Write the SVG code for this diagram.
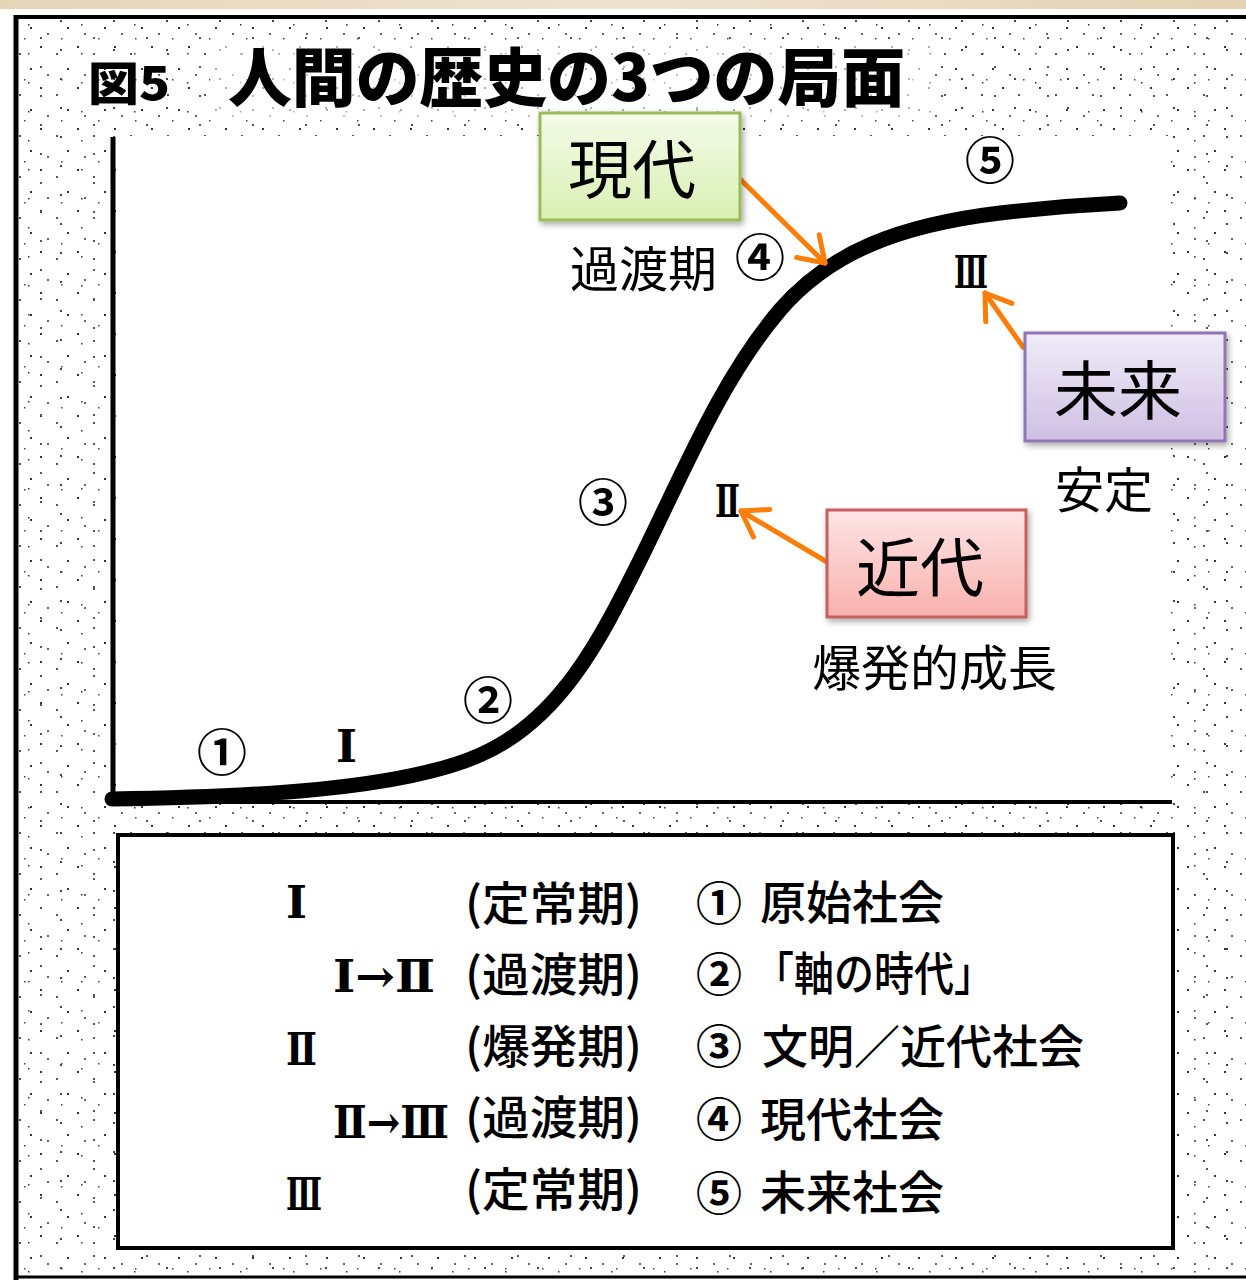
<svg xmlns="http://www.w3.org/2000/svg" width="1246" height="1280" viewBox="0 0 1246 1280">
<style>
.jp{font-family:"Noto Sans CJK JP","Noto Sans CJK SC",sans-serif;fill:#000}
.tt{font-weight:900}
.cl{font-size:64px}
.lb{font-size:49px}
.cn{font-size:50px;font-weight:bold;text-anchor:middle}
.lg{font-size:46px;font-weight:500}
.lc{font-size:46px;font-weight:bold;text-anchor:middle}
.rn{font-family:"DejaVu Serif","Liberation Serif","Noto Sans CJK JP",serif;font-weight:bold;font-size:45px;fill:#000}
.arr{fill:none;stroke:#fb7d0a;stroke-width:5;stroke-linecap:round;marker-end:url(#ah)}
</style>
<defs>
<pattern id="dots1" width="37" height="41" patternUnits="userSpaceOnUse">
<rect x="3" y="5" width="2" height="2" fill="#333"/><rect x="19" y="12" width="2" height="2" fill="#555"/><rect x="30" y="27" width="2" height="2" fill="#333"/><rect x="10" y="33" width="2" height="2" fill="#666"/><rect x="24" y="38" width="1.5" height="1.5" fill="#444"/>
</pattern>
<pattern id="dots2" width="53" height="29" patternUnits="userSpaceOnUse">
<rect x="7" y="20" width="2" height="2" fill="#444"/><rect x="40" y="8" width="2" height="2" fill="#555"/><rect x="28" y="24" width="1.5" height="1.5" fill="#333"/>
</pattern>
<linearGradient id="gTop" x1="0" y1="0" x2="1" y2="0"><stop offset="0" stop-color="#e6d6b8"/><stop offset="0.5" stop-color="#efe3cf"/><stop offset="1" stop-color="#e4d2b2"/></linearGradient>
<linearGradient id="gGreen" x1="0" y1="0" x2="0" y2="1"><stop offset="0" stop-color="#f4fbe9"/><stop offset="1" stop-color="#d8f0b2"/></linearGradient>
<linearGradient id="gPurple" x1="0" y1="0" x2="0" y2="1"><stop offset="0" stop-color="#f0ecf8"/><stop offset="1" stop-color="#cfc0e4"/></linearGradient>
<linearGradient id="gRed" x1="0" y1="0" x2="0" y2="1"><stop offset="0" stop-color="#fde5e5"/><stop offset="1" stop-color="#f9b1ad"/></linearGradient>
<filter id="sh" x="-10%" y="-10%" width="125%" height="130%"><feDropShadow dx="2" dy="3" stdDeviation="3" flood-color="#000" flood-opacity="0.35"/></filter>
<marker id="ah" viewBox="-32 -22 36 44" refX="0" refY="0" markerWidth="36" markerHeight="44" markerUnits="userSpaceOnUse" orient="auto">
<path d="M-24,-16 L0,0 L-24,16" fill="none" stroke="#fb7d0a" stroke-width="5" stroke-linecap="round" stroke-linejoin="round"/>
</marker>
</defs>

<!-- background -->
<rect x="0" y="0" width="1246" height="1280" fill="#fff"/>
<rect x="0" y="0" width="1246" height="9" fill="url(#gTop)"/>
<rect x="17" y="19" width="1229" height="1256" fill="url(#dots1)"/>
<rect x="17" y="19" width="1229" height="1256" fill="url(#dots2)"/>
<rect x="117" y="136" width="1052" height="663" fill="#fff"/>
<rect x="210" y="40" width="720" height="80" fill="#fff" opacity="0.6"/>

<!-- outer frame -->
<g id="frame">
<line x1="16" y1="17" x2="1246" y2="17" stroke="#000" stroke-width="4"/>
<line x1="16" y1="15" x2="16" y2="1280" stroke="#000" stroke-width="5"/>
<line x1="16" y1="1277" x2="1246" y2="1277" stroke="#000" stroke-width="3"/>
</g>

<!-- title -->
<g id="title">
<text class="jp tt" x="88" y="100" font-size="46" textLength="82" lengthAdjust="spacingAndGlyphs">図5</text>
<text class="jp tt" x="228" y="101" font-size="64" textLength="677" lengthAdjust="spacingAndGlyphs">人間の歴史の3つの局面</text>
</g>

<!-- axes -->
<g id="axes">
<line x1="113" y1="137" x2="113" y2="802" stroke="#000" stroke-width="5"/>
<line x1="108" y1="802" x2="1172" y2="802" stroke="#000" stroke-width="4"/>
</g>

<!-- curve -->
<g id="curve">
<path d="M112,799 C250,797 400,790 480,755 C560,720 600,640 640,560 C680,480 720,380 780,310 C830,252 900,225 1000,213 C1060,206 1100,204 1120,203" fill="none" stroke="#000" stroke-width="15" stroke-linecap="round"/>
</g>

<!-- chart labels -->
<g id="chart-labels">
<text class="jp cn" x="222" y="771">①</text>
<text class="jp cn" x="488" y="719">②</text>
<text class="jp cn" x="603" y="521">③</text>
<text class="jp cn" x="760" y="276">④</text>
<text class="jp cn" x="990" y="179">⑤</text>
<text class="rn" x="336" y="762" textLength="21" lengthAdjust="spacingAndGlyphs">Ⅰ</text>
<text class="rn" x="715" y="517" textLength="25" lengthAdjust="spacingAndGlyphs">Ⅱ</text>
<text class="rn" x="954" y="288" textLength="34" lengthAdjust="spacingAndGlyphs">Ⅲ</text>
<text class="jp lb" x="570" y="287">過渡期</text>
<text class="jp lb" x="1055" y="508" font-size="48">安定</text>
<text class="jp lb" x="812" y="686" font-size="50">爆発的成長</text>
</g>

<!-- connectors -->
<g id="connectors">
<line class="arr" x1="741" y1="180" x2="825" y2="263"/>
<line class="arr" x1="1023" y1="347" x2="985" y2="293"/>
<line class="arr" x1="827" y1="562" x2="741" y2="511"/>
</g>

<!-- callouts -->
<g id="node-gendai">
<rect x="540" y="113" width="200" height="107" fill="url(#gGreen)" stroke="#9bbb59" stroke-width="3" filter="url(#sh)"/>
<text class="jp cl" x="632" y="193" text-anchor="middle">現代</text>
</g>
<g id="node-mirai">
<rect x="1025" y="333" width="200" height="108" fill="url(#gPurple)" stroke="#9077b4" stroke-width="3" filter="url(#sh)"/>
<text class="jp cl" x="1118" y="414" text-anchor="middle">未来</text>
</g>
<g id="node-kindai">
<rect x="827" y="510" width="199" height="107" fill="url(#gRed)" stroke="#c75f5b" stroke-width="3" filter="url(#sh)"/>
<text class="jp cl" x="920" y="591" text-anchor="middle">近代</text>
</g>

<!-- legend -->
<g id="legend">
<rect x="118" y="835" width="1055" height="413" fill="#fff" stroke="#000" stroke-width="4"/>
<text class="rn" x="286" y="918" textLength="21" lengthAdjust="spacingAndGlyphs">Ⅰ</text>
<text class="rn" x="333" y="992" textLength="102" lengthAdjust="spacingAndGlyphs">Ⅰ→Ⅱ</text>
<text class="rn" x="286" y="1065" textLength="31" lengthAdjust="spacingAndGlyphs">Ⅱ</text>
<text class="rn" x="333" y="1138" textLength="116" lengthAdjust="spacingAndGlyphs">Ⅱ→Ⅲ</text>
<text class="rn" x="286" y="1210" textLength="36" lengthAdjust="spacingAndGlyphs">Ⅲ</text>

<text class="jp lg" x="465" y="920" textLength="177" lengthAdjust="spacingAndGlyphs">(定常期)</text>
<text class="jp lg" x="465" y="991" textLength="177" lengthAdjust="spacingAndGlyphs">(過渡期)</text>
<text class="jp lg" x="465" y="1063" textLength="177" lengthAdjust="spacingAndGlyphs">(爆発期)</text>
<text class="jp lg" x="465" y="1134" textLength="177" lengthAdjust="spacingAndGlyphs">(過渡期)</text>
<text class="jp lg" x="465" y="1206" textLength="177" lengthAdjust="spacingAndGlyphs">(定常期)</text>

<text class="jp lc" x="719" y="920">①</text>
<text class="jp lc" x="719" y="991">②</text>
<text class="jp lc" x="719" y="1063">③</text>
<text class="jp lc" x="719" y="1136">④</text>
<text class="jp lc" x="719" y="1210">⑤</text>

<text class="jp lg" x="760" y="919">原始社会</text>
<text class="jp lg" x="754" y="990" textLength="240" lengthAdjust="spacingAndGlyphs">「軸の時代」</text>
<text class="jp lg" x="762" y="1063">文明／近代社会</text>
<text class="jp lg" x="760" y="1136">現代社会</text>
<text class="jp lg" x="760" y="1209">未来社会</text>
</g>
</svg>
